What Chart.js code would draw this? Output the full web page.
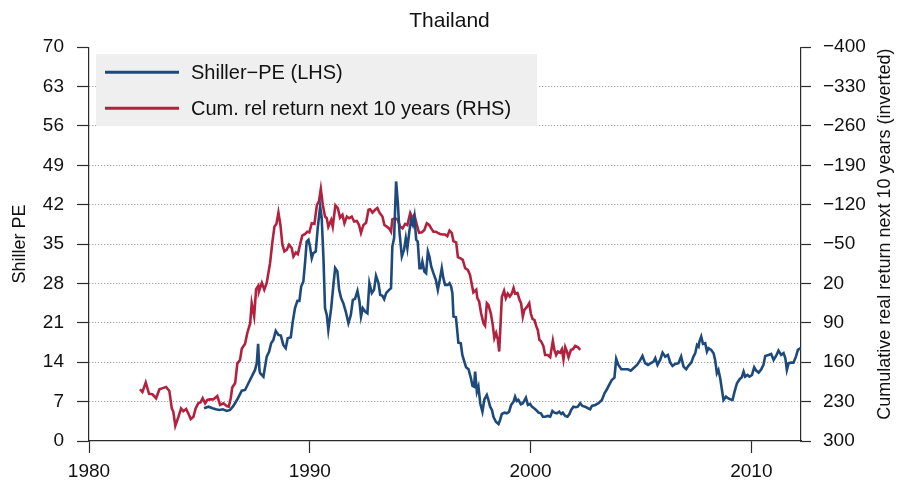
<!DOCTYPE html>
<html>
<head>
<meta charset="utf-8">
<title>Thailand</title>
<script src="https://cdn.jsdelivr.net/npm/chart.js@4.4.1/dist/chart.umd.min.js"></script>
<style>
  html, body { margin: 0; padding: 0; background: #fff; }
  #wrap { width: 899px; height: 486px; }
</style>
</head>
<body>
<div id="wrap"><canvas id="peChart" width="899" height="486"></canvas></div>
<script>
// Shiller PE (left axis), decimal years
const peYears = [
	1985.21, 1985.41, 1985.60, 1985.75, 1985.90, 1986.06, 1986.24, 1986.39, 1986.54, 1986.72,
	1986.92, 1987.07, 1987.22, 1987.37, 1987.52, 1987.60, 1987.66, 1987.72, 1987.75, 1987.90,
	1988.05, 1988.16, 1988.25, 1988.35, 1988.46, 1988.58, 1988.69, 1988.80, 1988.91, 1989.00,
	1989.14, 1989.23, 1989.33, 1989.44, 1989.53, 1989.61, 1989.71, 1989.79, 1989.86, 1989.94,
	1990.01, 1990.09, 1990.16, 1990.27, 1990.36, 1990.47, 1990.54, 1990.62, 1990.69, 1990.77,
	1990.84, 1990.97, 1991.07, 1991.15, 1991.25, 1991.33, 1991.42, 1991.52, 1991.63, 1991.75,
	1991.86, 1991.95, 1992.05, 1992.16, 1992.25, 1992.32, 1992.40, 1992.51, 1992.61, 1992.70,
	1992.81, 1992.91, 1993.00, 1993.11, 1993.19, 1993.29, 1993.37, 1993.46, 1993.56, 1993.68,
	1993.74, 1993.82, 1993.91, 1993.99, 1994.06, 1994.17, 1994.27, 1994.35, 1994.42, 1994.51,
	1994.59, 1994.67, 1994.74, 1994.82, 1994.89, 1994.97, 1995.04, 1995.10, 1995.19, 1995.27,
	1995.35, 1995.42, 1995.50, 1995.60, 1995.71, 1995.80, 1995.90, 1995.98, 1996.05, 1996.13,
	1996.25, 1996.33, 1996.40, 1996.46, 1996.51, 1996.62, 1996.69, 1996.73, 1996.84, 1996.91,
	1997.00, 1997.08, 1997.19, 1997.30, 1997.37, 1997.44, 1997.49, 1997.57, 1997.64, 1997.72,
	1997.82, 1997.91, 1998.02, 1998.09, 1998.17, 1998.25, 1998.32, 1998.43, 1998.55, 1998.62,
	1998.70, 1998.82, 1998.93, 1999.03, 1999.12, 1999.23, 1999.30, 1999.38, 1999.45, 1999.56,
	1999.65, 1999.72, 1999.79, 1999.88, 1999.98, 2000.06, 2000.16, 2000.25, 2000.36, 2000.47,
	2000.56, 2000.66, 2000.78, 2000.89, 2000.99, 2001.08, 2001.19, 2001.30, 2001.39, 2001.46,
	2001.57, 2001.67, 2001.76, 2001.84, 2001.94, 2002.05, 2002.14, 2002.25, 2002.35, 2002.47,
	2002.60, 2002.70, 2002.78, 2002.93, 2003.08, 2003.23, 2003.35, 2003.46, 2003.56, 2003.68,
	2003.80, 2003.88, 2003.98, 2004.11, 2004.25, 2004.41, 2004.54, 2004.66, 2004.82, 2004.93,
	2005.07, 2005.19, 2005.32, 2005.45, 2005.57, 2005.65, 2005.75, 2005.87, 2005.98, 2006.10,
	2006.22, 2006.33, 2006.43, 2006.55, 2006.70, 2006.82, 2006.93, 2007.05, 2007.15, 2007.28,
	2007.38, 2007.46, 2007.54, 2007.61, 2007.65, 2007.73, 2007.81, 2007.91, 2007.99, 2008.06,
	2008.18, 2008.29, 2008.36, 2008.44, 2008.51, 2008.59, 2008.67, 2008.74, 2008.85, 2008.94,
	2009.04, 2009.15, 2009.24, 2009.35, 2009.47, 2009.57, 2009.65, 2009.72, 2009.83, 2009.92,
	2010.03, 2010.13, 2010.22, 2010.33, 2010.45, 2010.55, 2010.63, 2010.78, 2010.90, 2011.01,
	2011.12, 2011.23, 2011.35, 2011.46, 2011.54, 2011.61, 2011.69, 2011.81, 2011.91, 2012.02,
	2012.11, 2012.23,
];
const peValues = [
	5.82, 6.10, 5.82, 5.64, 5.52, 5.64, 5.34, 5.52, 6.23, 7.42,
	8.95, 9.07, 10.27, 11.44, 12.63, 13.83, 17.26, 12.63, 12.05, 11.44,
	15.00, 15.89, 17.38, 17.97, 19.57, 18.86, 18.74, 17.08, 16.50, 18.27,
	18.45, 21.23, 23.61, 24.91, 24.91, 27.46, 28.35, 31.90, 35.46, 35.77,
	34.57, 32.51, 33.40, 33.68, 37.85, 41.69, 39.63, 32.51, 23.61, 22.42,
	19.75, 23.61, 27.76, 30.73, 30.13, 26.87, 25.39, 24.50, 23.01, 20.94,
	22.42, 25.09, 25.27, 26.69, 24.79, 22.12, 23.61, 23.01, 22.72, 28.06,
	26.28, 26.87, 29.36, 28.06, 25.98, 25.80, 25.21, 26.28, 26.74, 27.17,
	34.57, 36.07, 46.14, 42.30, 37.24, 32.79, 33.99, 36.07, 34.29, 37.24,
	39.32, 38.44, 39.91, 35.77, 35.46, 30.73, 30.73, 31.90, 30.13, 29.84,
	33.68, 32.79, 31.02, 29.84, 28.65, 26.87, 28.95, 30.73, 28.95, 27.76,
	27.76, 28.06, 27.46, 26.28, 22.12, 22.01, 19.16, 17.49, 17.38, 15.30,
	14.11, 13.11, 12.76, 11.16, 9.79, 9.66, 12.33, 8.77, 9.66, 6.71,
	5.21, 7.42, 8.19, 7.30, 6.10, 5.52, 4.32, 3.43, 3.02, 3.74,
	4.80, 5.04, 4.93, 5.21, 6.41, 6.99, 7.88, 7.12, 7.30, 6.53,
	6.71, 7.17, 7.70, 6.41, 6.58, 6.10, 5.82, 5.52, 5.04, 4.93,
	4.32, 4.32, 4.45, 4.32, 5.34, 5.04, 4.93, 5.21, 4.80, 5.04,
	4.45, 4.32, 4.80, 5.52, 6.10, 6.00, 6.10, 6.71, 6.23, 6.10,
	5.82, 5.64, 6.23, 6.41, 6.71, 7.30, 8.49, 9.20, 9.96, 10.85,
	11.26, 14.59, 13.52, 12.76, 12.76, 12.76, 12.51, 12.94, 13.52, 14.11,
	15.12, 13.83, 13.52, 13.83, 14.11, 14.72, 13.52, 14.41, 15.71, 15.00,
	15.30, 13.93, 13.35, 13.70, 13.83, 15.00, 13.22, 12.76, 13.35, 13.93,
	15.00, 15.61, 17.08, 16.78, 17.67, 18.56, 17.26, 17.38, 15.89, 16.50,
	16.19, 15.61, 14.41, 12.05, 12.63, 11.16, 9.07, 7.30, 7.88, 7.60,
	7.42, 7.30, 8.77, 10.27, 10.98, 11.33, 12.33, 11.44, 11.74, 11.44,
	11.74, 13.11, 12.51, 12.15, 12.76, 13.52, 15.12, 15.30, 15.48, 14.41,
	15.12, 16.07, 15.30, 15.61, 14.72, 12.63, 13.83, 13.93, 13.93, 15.00,
	16.19, 16.50,
];

// cumulative relative return next 10 years (right axis, inverted)
const retYears = [
	1982.31, 1982.42, 1982.57, 1982.72, 1982.87, 1983.04, 1983.19, 1983.34, 1983.49, 1983.64,
	1983.75, 1983.82, 1983.91, 1984.05, 1984.17, 1984.27, 1984.40, 1984.50, 1984.61, 1984.73,
	1984.83, 1984.95, 1985.06, 1985.15, 1985.26, 1985.36, 1985.48, 1985.63, 1985.81, 1985.94,
	1986.09, 1986.24, 1986.33, 1986.42, 1986.49, 1986.62, 1986.72, 1986.84, 1986.92, 1987.07,
	1987.17, 1987.30, 1987.37, 1987.48, 1987.57, 1987.67, 1987.70, 1987.83, 1987.94, 1988.05,
	1988.20, 1988.31, 1988.40, 1988.49, 1988.58, 1988.67, 1988.76, 1988.85, 1988.96, 1989.06,
	1989.18, 1989.26, 1989.37, 1989.46, 1989.56, 1989.66, 1989.79, 1989.89, 1989.98, 1990.09,
	1990.21, 1990.32, 1990.42, 1990.50, 1990.59, 1990.69, 1990.77, 1990.84, 1990.97, 1991.04,
	1991.16, 1991.27, 1991.37, 1991.48, 1991.57, 1991.68, 1991.78, 1991.90, 1992.01, 1992.13,
	1992.23, 1992.32, 1992.43, 1992.55, 1992.66, 1992.73, 1992.84, 1992.96, 1993.06, 1993.17,
	1993.29, 1993.38, 1993.49, 1993.59, 1993.68, 1993.74, 1993.87, 1993.99, 1994.09, 1994.20,
	1994.32, 1994.42, 1994.55, 1994.65, 1994.74, 1994.85, 1994.95, 1995.08, 1995.19, 1995.30,
	1995.41, 1995.50, 1995.60, 1995.71, 1995.80, 1995.90, 1996.01, 1996.13, 1996.23, 1996.33,
	1996.43, 1996.51, 1996.63, 1996.71, 1996.81, 1996.93, 1997.04, 1997.16, 1997.26, 1997.34,
	1997.41, 1997.54, 1997.59, 1997.67, 1997.76, 1997.87, 1997.94, 1998.02, 1998.09, 1998.20,
	1998.29, 1998.36, 1998.44, 1998.52, 1998.58, 1998.65, 1998.70, 1998.80, 1998.88, 1998.97,
	1999.06, 1999.15, 1999.23, 1999.30, 1999.41, 1999.50, 1999.57, 1999.65, 1999.72, 1999.83,
	1999.94, 2000.01, 2000.09, 2000.18, 2000.25, 2000.33, 2000.40, 2000.48, 2000.58, 2000.66,
	2000.78, 2000.89, 2001.01, 2001.08, 2001.16, 2001.24, 2001.34, 2001.42, 2001.49, 2001.57,
	2001.65, 2001.72, 2001.83, 2001.92, 2002.02, 2002.14, 2002.25,
];
const retValues = [
	208, 213, 196, 216, 217, 224, 208, 206, 204, 211,
	242, 248, 273, 257, 242, 247, 243, 251, 261, 257,
	242, 233, 231, 224, 233, 227, 226, 226, 220, 236,
	233, 238, 239, 224, 205, 197, 162, 156, 136, 127,
	108, 91, 55, 78, 30, 24, 34, 19, 31, 19,
	-16, -55, -81, -86, -106, -84, -49, -37, -40, -49,
	-43, -28, -35, -32, -49, -65, -68, -72, -71, -87,
	-86, -119, -127, -148, -120, -99, -96, -81, -93, -81,
	-119, -114, -97, -102, -87, -99, -96, -99, -90, -91,
	-84, -70, -84, -88, -111, -112, -106, -111, -114, -105,
	-99, -84, -81, -78, -72, -94, -96, -93, -81, -78,
	-86, -84, -105, -96, -102, -84, -70, -71, -75, -87,
	-84, -78, -72, -72, -70, -68, -67, -67, -64, -74,
	-70, -55, -53, -27, -25, -22, -7, -4, 5, 22,
	36, 31, 46, 52, 73, 91, 95, 55, 58, 73,
	94, 117, 108, 120, 141, 85, 44, 33, 46, 38,
	43, 38, 28, 38, 37, 49, 55, 79, 67, 62,
	55, 73, 83, 85, 95, 103, 120, 123, 131, 147,
	147, 151, 122, 138, 147, 141, 143, 137, 155, 133,
	141, 151, 138, 137, 131, 133, 138,
];

const blue = "#1e4a7b";
const red = "#b2223f";
const axisColor = "#2b2b2b";
const textColor = "#111";
const fontFamily = "'Liberation Sans', Arial, Helvetica, sans-serif";

Chart.defaults.font.family = fontFamily;
Chart.defaults.color = textColor;

function pairs(xs, ys) {
	return xs.map((x, i) => ({ x: x, y: ys[i] }));
}

// grey legend box sitting inside the plot, top left
const insideLegend = {
	id: "insideLegend",
	afterDatasetsDraw(chart) {
		const { ctx, chartArea } = chart;
		const left = chartArea.left + 7;
		const top = chartArea.top + 7;
		ctx.save();
		ctx.fillStyle = "#efefef";
		ctx.fillRect(left, top, 441, 72);
		ctx.font = "20px " + fontFamily;
		ctx.textBaseline = "middle";
		chart.data.datasets.forEach((ds, i) => {
			const y = top + 18 + i * 36;
			ctx.strokeStyle = ds.borderColor;
			ctx.lineWidth = 3;
			ctx.beginPath();
			ctx.moveTo(left + 9, y);
			ctx.lineTo(left + 83, y);
			ctx.stroke();
			ctx.fillStyle = textColor;
			ctx.fillText(ds.label, left + 95, y + 1);
		});
		ctx.restore();
	},
};

// right axis title reads bottom to top, like the left one
const rightTitle = {
	id: "rightTitle",
	afterDraw(chart) {
		const { ctx, chartArea } = chart;
		ctx.save();
		ctx.translate(chartArea.right + 84, (chartArea.top + chartArea.bottom) / 2 - 10);
		ctx.rotate(-Math.PI / 2);
		ctx.font = "18px " + fontFamily;
		ctx.fillStyle = textColor;
		ctx.textAlign = "center";
		ctx.textBaseline = "middle";
		ctx.fillText("Cumulative real return next 10 years (inverted)", 0, 0);
		ctx.restore();
	},
};

const ctx = document.getElementById("peChart").getContext("2d");
const chart = new Chart(ctx, {
	type: "line",
	data: {
		datasets: [
			{
				label: "Shiller\u2212PE (LHS)",
				data: pairs(peYears, peValues),
				borderColor: blue,
				borderWidth: 2.6,
				pointRadius: 0,
				tension: 0,
				yAxisID: "y",
			},
			{
				label: "Cum. rel return next 10 years (RHS)",
				data: pairs(retYears, retValues),
				borderColor: red,
				borderWidth: 2.6,
				pointRadius: 0,
				tension: 0,
				yAxisID: "y2",
			},
		],
	},
	options: {
		responsive: false,
		animation: false,
		events: [],
		layout: { padding: 0 },
		plugins: {
			legend: { display: false },
			tooltip: { enabled: false },
			title: {
				display: true,
				text: "Thailand",
				color: textColor,
				font: { size: 21, weight: "normal" },
				padding: { top: 9, bottom: 13 },
			},
		},
		scales: {
			x: {
				type: "linear",
				min: 1980,
				max: 2012.25,
				ticks: {
					stepSize: 10,
					includeBounds: false,
					padding: 7,
					font: { size: 19 },
					color: textColor,
					callback: (v) => String(v),
				},
				grid: {
					drawOnChartArea: false,
					tickLength: 12,
					tickColor: axisColor,
					tickWidth: 1.2,
				},
				border: { color: axisColor, width: 1.2 },
				afterFit: (s) => { s.height = 45; },
			},
			y: {
				position: "left",
				min: 0,
				max: 70,
				ticks: {
					stepSize: 7,
					padding: 13,
					font: { size: 19 },
					color: textColor,
				},
				grid: {
					color: (c) => (c.tick && (c.tick.value === 0 || c.tick.value === 70)) ? "rgba(0,0,0,0)" : "#8a8a8a",
					lineWidth: 1,
					tickLength: 12,
					tickColor: axisColor,
					tickWidth: 1.2,
				},
				border: { color: axisColor, width: 1.2, dash: [1, 2] },
				title: {
					display: true,
					text: "Shiller PE",
					color: textColor,
					font: { size: 18 },
					padding: { top: 9, bottom: 0 },
				},
				afterFit: (s) => { s.width = 89; },
			},
			y2: {
				position: "right",
				reverse: true,
				min: -400,
				max: 300,
				ticks: {
					stepSize: 70,
					padding: 12,
					font: { size: 19 },
					color: textColor,
					callback: (v) => String(v).replace("-", "\u2212"),
				},
				grid: {
					drawOnChartArea: false,
					tickLength: 10,
					tickColor: axisColor,
					tickWidth: 1.2,
				},
				border: { color: axisColor, width: 1.2 },
				afterFit: (s) => { s.width = 98; },
			},
		},
	},
	plugins: [insideLegend, rightTitle],
});
</script>
</body>
</html>
